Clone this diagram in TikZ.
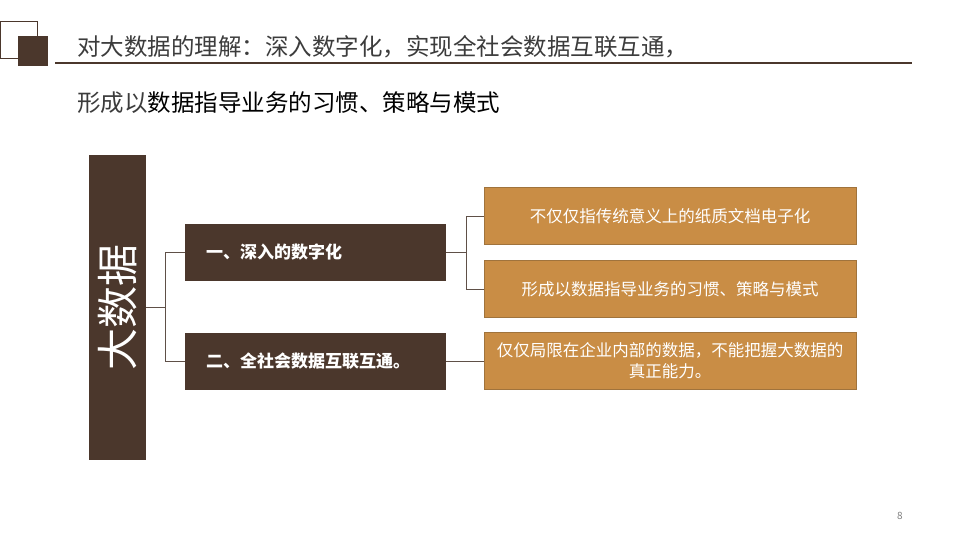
\documentclass[tikz,border=0pt]{standalone}
\usepackage{fontspec}
\setmainfont{Noto Sans CJK SC}
\usetikzlibrary{positioning}
\definecolor{darkbrown}{RGB}{75,55,44}
\definecolor{ochre}{RGB}{201,141,69}
\definecolor{ochreline}{RGB}{160,115,60}
\definecolor{linkgray}{RGB}{95,80,72}
\definecolor{titlegray}{RGB}{60,60,60}
\tikzset{
  bigbox/.style={
    rectangle, fill=darkbrown,
    minimum width=57pt, minimum height=305pt, inner sep=0pt,
    text=white, font=\fontsize{42}{42}\selectfont
  },
  levelbox/.style={
    rectangle, fill=darkbrown, outer sep=0pt,
    minimum width=261pt, minimum height=57pt,
    inner xsep=21pt, text width=219pt, align=left,
    text=white, font=\fontsize{17}{20}\selectfont\bfseries
  },
  detailbox/.style={
    rectangle, draw=ochreline, line width=0.8pt, fill=ochre, outer sep=0pt,
    minimum width=372pt, minimum height=57pt,
    inner xsep=5pt, text width=362pt, align=center,
    text=white, font=\fontsize{16.5}{21}\selectfont
  },
  headline/.style={anchor=west, inner sep=0pt, font=\fontsize{23.5}{23.5}\selectfont},
  link/.style={draw=linkgray, line width=1pt},
}

\begin{document}
\begin{tikzpicture}[x=1pt, y=-1pt]
  \useasboundingbox (0,0) rectangle (960,540);

  \draw[darkbrown, line width=0.9pt] (0.5,21) rectangle (37,58);
  \fill[darkbrown] (18,36) rectangle (48,66);
  \draw[darkbrown, line width=2pt] (55,63) -- (912,63);

  \node[headline, text=titlegray] (title) at (77,47) {对大数据的理解：深入数字化，实现全社会数据互联互通，};
  \node[headline] (subtitle) at (77,103) {\textcolor{titlegray}{形成以}数据指导业务的习惯、策略与模式};

  \node[bigbox] (bigdata) at (117.5,307.5) {\rotatebox{90}{大数据}};

  \node[levelbox, anchor=north west] (deep) at (185,224) {一、深入的数字化};
  \node[levelbox, below=52pt of deep] (social) {二、全社会数据互联互通。};

  \node[detailbox, anchor=north west] (paper) at (484,187.5) {不仅仅指传统意义上的纸质文档电子化};
  \node[detailbox, below=16pt of paper] (habit) {形成以数据指导业务的习惯、策略与模式};
  \node[detailbox, below=15pt of habit] (inner) {仅仅局限在企业内部的数据，不能把握大数据的\\真正能力。};

  \coordinate (hubleft) at (165,307.5);
  \coordinate (hubright) at (466,252.5);

  \draw[link] (bigdata.east) -- (hubleft);
  \draw[link] (hubleft) |- (deep.west);
  \draw[link] (hubleft) |- (social.west);
  \draw[link] (deep.east) -- (hubright);
  \draw[link] (hubright) |- (paper.west);
  \draw[link] (hubright) |- (habit.west);
  \draw[link] (social.east) -- (social.east -| inner.west);

  \node[text=gray, font=\fontsize{10}{10}\selectfont] (pagenum) at (900,516) {8};
\end{tikzpicture}
\end{document}
